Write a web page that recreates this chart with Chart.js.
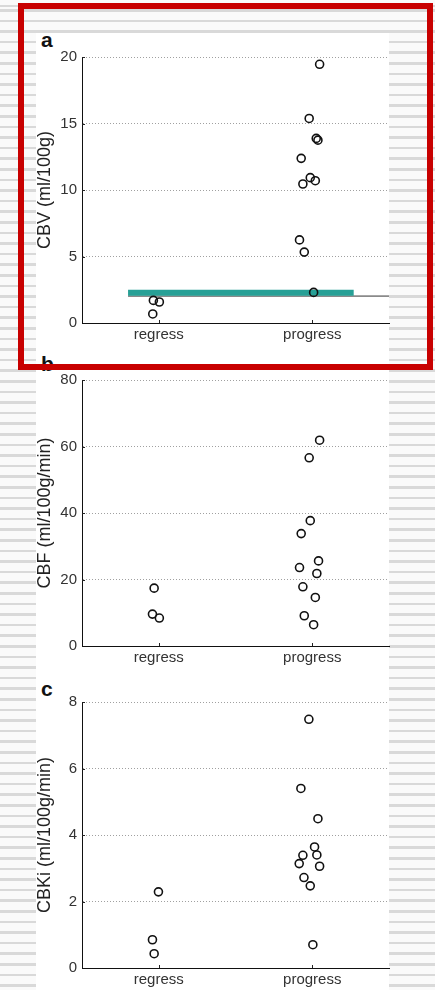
<!DOCTYPE html>
<html>
<head>
<meta charset="utf-8">
<script src="https://cdn.jsdelivr.net/npm/chart.js@4.4.0/dist/chart.umd.min.js"></script>
<style>
  html, body { margin: 0; padding: 0; }
  body {
    width: 435px; height: 990px; overflow: hidden; position: relative;
    background: repeating-linear-gradient(to bottom, #d9d9d9 0, #d9d9d9 2.5px, #fafafa 2.5px, #fafafa 10.6px);
    background-position: 0 9px;
  }
  #sheet { position: absolute; left: 36px; top: 33px; width: 353px; height: 957px; background: #fff; }
  canvas { position: absolute; left: 0; }
  .tag { position: absolute; font: bold 21px 'Liberation Sans', Arial, sans-serif; line-height: 21px; color: #111; }
  #frame { position: absolute; left: 18px; top: 3px; width: 415px; height: 367px; box-sizing: border-box; border: 6.5px solid #c80000; }
</style>
</head>
<body>
<div id="sheet"></div>
<div class="tag" style="left:41px; top:29px">a</div>
<div class="tag" style="left:41px; top:353px">b</div>
<div class="tag" style="left:41px; top:678px">c</div>
<canvas id="cbv" width="400" height="326" style="top:37px"></canvas>
<canvas id="cbf" width="400" height="326" style="top:360px"></canvas>
<canvas id="cbki" width="400" height="326" style="top:682px"></canvas>
<div id="frame"></div>
<script>
// groups on the x axis (regress at 1, progress at 2)
const groups = ['regress', 'progress'];

// a: CBV (ml/100g)
const cbvRegressX = [0.965, 1.004, 0.961];
const cbvRegressY = [1.70, 1.58, 0.68];
const cbvProgressX = [2.048, 1.980, 2.026, 2.037, 1.928, 1.987, 2.020, 1.939, 1.917, 1.948, 2.009];
const cbvProgressY = [19.45, 15.38, 13.88, 13.75, 12.38, 10.93, 10.70, 10.45, 6.25, 5.33, 2.30];
// threshold lines in panel a
const tealLineX = [0.80, 2.27];
const tealLineY = 2.28;
const grayLineX = [0.80, 2.50];
const grayLineY = 2.02;

// b: CBF (ml/100g/min)
const cbfRegressX = [0.970, 0.959, 1.004];
const cbfRegressY = [17.4, 9.6, 8.4];
const cbfProgressX = [2.048, 1.980, 1.987, 1.928, 2.041, 1.917, 2.030, 1.939, 2.020, 1.948, 2.009];
const cbfProgressY = [61.9, 56.6, 37.7, 33.8, 25.6, 23.6, 21.8, 17.8, 14.6, 9.1, 6.4];

// c: CBKi (ml/100g/min)
const cbkiRegressX = [0.998, 0.959, 0.970];
const cbkiRegressY = [2.29, 0.85, 0.43];
const cbkiProgressX = [1.978, 1.926, 2.037, 2.015, 1.939, 2.030, 1.915, 2.048, 1.946, 1.987, 2.004];
const cbkiProgressY = [7.48, 5.40, 4.49, 3.64, 3.39, 3.40, 3.14, 3.06, 2.72, 2.47, 0.70];

const FONT = "'Liberation Sans', Arial, Helvetica, sans-serif";
Chart.defaults.animation = false;
Chart.defaults.font.family = FONT;

const zip = (xs, ys) => xs.map((x, i) => ({ x, y: ys[i] }));

// small inward tick marks, like the original plot
const innerTicks = {
    id: 'innerTicks',
    afterDatasetsDraw(chart) {
        const { ctx, chartArea: a, scales: { x, y } } = chart;
        ctx.save();
        ctx.strokeStyle = '#222';
        ctx.lineWidth = 1;
        ctx.beginPath();
        y.ticks.forEach(t => {
            if (t.value === 0) return;
            const py = Math.round(y.getPixelForValue(t.value)) + 0.5;
            ctx.moveTo(a.left, py);
            ctx.lineTo(a.left + 3, py);
        });
        x.ticks.forEach(t => {
            const px = Math.round(x.getPixelForValue(t.value)) + 0.5;
            ctx.moveTo(px, a.bottom);
            ctx.lineTo(px, a.bottom - 3);
        });
        ctx.stroke();
        ctx.restore();
    },
};

function pointSet(data) {
    return {
        type: 'scatter',
        data,
        order: 0,
        pointStyle: 'circle',
        pointRadius: 4,
        borderWidth: 1.6,
        borderColor: '#111',
        backgroundColor: 'rgba(0,0,0,0)',
    };
}

function makePanel(id, title, max, step, regress, progress, extra) {
    const datasets = [pointSet(regress), pointSet(progress)].concat(extra || []);
    return new Chart(document.getElementById(id), {
        type: 'scatter',
        data: { datasets },
        plugins: [innerTicks],
        options: {
            responsive: false,
            devicePixelRatio: 1,
            layout: { padding: { top: 20, right: 11, bottom: 0, left: 0 } },
            plugins: { legend: { display: false }, tooltip: { enabled: false } },
            scales: {
                x: {
                    type: 'linear',
                    min: 0.5,
                    max: 2.5,
                    afterBuildTicks(scale) {
                        scale.ticks = groups.map((g, i) => ({ value: i + 1 }));
                    },
                    afterFit(scale) { scale.height = 40; },
                    grid: { display: false, drawTicks: false },
                    border: { display: true, color: '#111', width: 1 },
                    ticks: {
                        padding: 3,
                        color: '#333',
                        font: { size: 15 },
                        callback: v => groups[v - 1],
                    },
                },
                y: {
                    min: 0,
                    max,
                    afterFit(scale) { scale.width = 82; },
                    grid: {
                        drawTicks: false,
                        color: c => (c.tick && c.tick.value === 0) ? 'rgba(0,0,0,0)' : '#a0a0a0',
                    },
                    border: { display: true, color: '#111', width: 1, dash: [1, 2] },
                    ticks: { stepSize: step, padding: 5, color: '#333', font: { size: 15 } },
                    title: {
                        display: true,
                        text: title,
                        color: '#222',
                        font: { size: 18 },
                        padding: { top: 34, bottom: 0 },
                    },
                },
            },
        },
    });
}

makePanel('cbv', 'CBV (ml/100g)', 20, 5,
    zip(cbvRegressX, cbvRegressY), zip(cbvProgressX, cbvProgressY), [
        {
            type: 'line',
            data: tealLineX.map(x => ({ x, y: tealLineY })),
            order: 1,
            borderColor: '#27a096',
            borderWidth: 6,
            borderCapStyle: 'butt',
            pointRadius: 0,
        },
        {
            type: 'line',
            data: grayLineX.map(x => ({ x, y: grayLineY })),
            order: 2,
            borderColor: '#8a8a8a',
            borderWidth: 1.6,
            borderCapStyle: 'butt',
            pointRadius: 0,
        },
    ]);

makePanel('cbf', 'CBF (ml/100g/min)', 80, 20,
    zip(cbfRegressX, cbfRegressY), zip(cbfProgressX, cbfProgressY));

makePanel('cbki', 'CBKi (ml/100g/min)', 8, 2,
    zip(cbkiRegressX, cbkiRegressY), zip(cbkiProgressX, cbkiProgressY));
</script>
</body>
</html>
